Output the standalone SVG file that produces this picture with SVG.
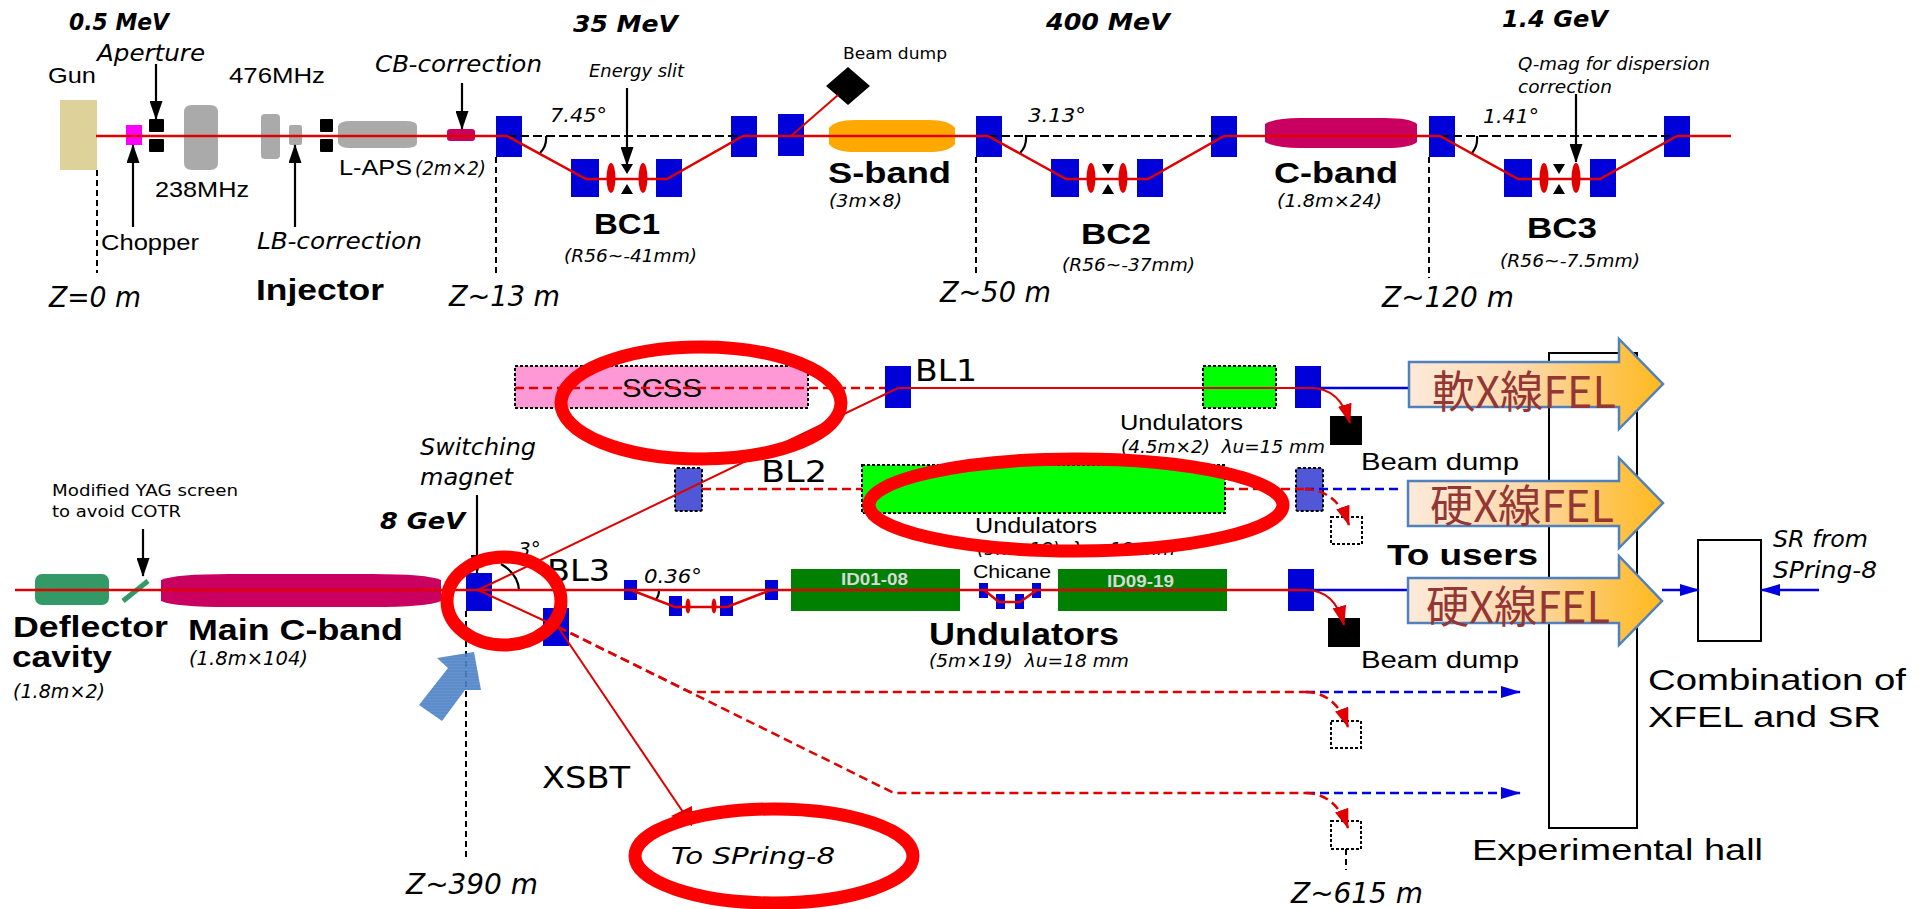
<svg xmlns="http://www.w3.org/2000/svg" width="1930" height="909" viewBox="0 0 1930 909">
<style>
text{font-family:"Liberation Sans",Arial,sans-serif;fill:#000}
.r{font-size:22px}
.b{font-weight:700;font-size:30px}
.i{font-family:"DejaVu Sans",sans-serif;font-style:italic;font-size:23px}
.s{font-family:"DejaVu Sans",sans-serif;font-style:italic;font-size:17px}
.e{font-family:"DejaVu Sans",sans-serif;font-style:italic;font-weight:700;font-size:23px}
.d{font-family:"DejaVu Sans",sans-serif;font-size:16px}
.z{font-family:"DejaVu Sans",sans-serif;font-style:italic;font-size:28px}
.bl{font-family:"DejaVu Sans",sans-serif;font-size:31px}
.l{font-size:30px}
.fel{font-family:"Noto Sans CJK JP","Noto Sans CJK SC",sans-serif;font-size:44px;fill:#943634}
.id{font-weight:700;font-size:16px;fill:#d9d9d9}
.bm{fill:#0000d8}
.gr{fill:#aaa}
.bk{fill:#000}
.rd{fill:#e00000}
.sl{fill:none;stroke:#000;stroke-width:2;stroke-dasharray:6 4}
.beam{fill:none;stroke:#e00000;stroke-width:2.5}
.beam2{fill:none;stroke:#e00000;stroke-width:2}
.rdash{fill:none;stroke:#e00000;stroke-width:2.5;stroke-dasharray:9 5}
.bdash{fill:none;stroke:#0000e0;stroke-width:2.5;stroke-dasharray:9 5}
.bsol{fill:none;stroke:#0000e0;stroke-width:2.5}
.kd{fill:none;stroke:#000;stroke-width:2;stroke-dasharray:9 4}
.ka{fill:none;stroke:#000;stroke-width:2.2}
.dot{stroke:#000;stroke-width:2;stroke-dasharray:3 2}
.oval{fill:none;stroke:#f00;stroke-width:13}
.big{fill:url(#felg);stroke:#4f81bd;stroke-width:2.5}
</style>
<defs>
<linearGradient id="felg" x1="0" x2="1" y1="0" y2="0"><stop offset="0" stop-color="#fdeada"/><stop offset=".45" stop-color="#fcd9ad"/><stop offset="1" stop-color="#ffb81c"/></linearGradient>
<pattern id="stripe" width="4" height="3" patternUnits="userSpaceOnUse"><rect width="4" height="3" fill="#4a80c4"/><rect width="4" height="1" fill="#5588c8"/></pattern>
<marker id="ak" markerUnits="userSpaceOnUse" markerWidth="19" markerHeight="13" refX="18" refY="6.5" orient="auto" viewBox="0 0 19 13"><path d="M0 0L19 6.5L0 13Z" fill="#000"/></marker>
<marker id="ar" markerUnits="userSpaceOnUse" markerWidth="20" markerHeight="14" refX="19" refY="7" orient="auto" viewBox="0 0 20 14"><path d="M0 0L20 7L0 14Z" fill="#e00000"/></marker>
<marker id="ab" markerUnits="userSpaceOnUse" markerWidth="20" markerHeight="12" refX="19" refY="6" orient="auto" viewBox="0 0 20 12"><path d="M0 0L20 6L0 12Z" fill="#0000e0"/></marker>
</defs>

<g id="hall"><rect x="1549" y="353" width="88" height="475" fill="#fff" stroke="#000" stroke-width="2"/></g>
<g id="combiner"><rect x="1698" y="540" width="63" height="101" fill="#fff" stroke="#000" stroke-width="2"/></g>

<g id="injector">
<rect id="gun" x="60" y="100" width="37" height="70" fill="#ddd29a"/>
<rect id="chopper" x="126" y="125" width="16" height="20" fill="#f0f"/>
<rect class="bk" x="149" y="119" width="15" height="13" rx="1"/><rect class="bk" x="149" y="139" width="15" height="13" rx="1"/>
<path class="gr" d="M184 112Q184 105 192 105H210Q218 105 218 112V163Q218 170 210 170H192Q184 170 184 163Z"/>
<rect class="gr" x="261" y="114" width="19" height="45" rx="4"/>
<rect class="gr" x="289" y="125" width="13" height="20" rx="2"/>
<rect class="bk" x="320" y="119" width="13" height="13" rx="1"/><rect class="bk" x="320" y="139" width="13" height="13" rx="1"/>
<path class="gr" d="M338 126Q340 121 350 121H405Q417 121 417 126V143Q417 148 405 148H350Q340 148 338 143Z"/>
<rect x="447" y="129" width="28" height="12" rx="3" fill="#c90060"/>
</g>
<g id="bc1">
<rect class="bm" x="496" y="116" width="26" height="41"/><rect class="bm" x="571" y="159" width="28" height="38"/><rect class="bm" x="656" y="159" width="26" height="38"/><rect class="bm" x="731" y="116" width="26" height="41"/>
<ellipse class="rd" cx="611" cy="178" rx="4.5" ry="15"/><ellipse class="rd" cx="643" cy="178" rx="4.5" ry="15"/>
<path class="bk" d="M621 164H633L627 174ZM621 194H633L627 184Z"/>
</g>
<g id="dump-top"><rect class="bm" x="778" y="114" width="26" height="42"/><path class="bk" d="M848 67L870 86L848 105L826 86Z"/></g>
<g id="sband"><path d="M829 128Q835 120 855 120H929Q949 120 955 128V144Q949 152 929 152H855Q835 152 829 144Z" fill="#ffa800"/></g>
<g id="bc2">
<rect class="bm" x="976" y="116" width="26" height="41"/><rect class="bm" x="1051" y="159" width="28" height="38"/><rect class="bm" x="1137" y="159" width="26" height="38"/><rect class="bm" x="1211" y="116" width="26" height="41"/>
<ellipse class="rd" cx="1091" cy="178" rx="4.5" ry="15"/><ellipse class="rd" cx="1123" cy="178" rx="4.5" ry="15"/>
<path class="bk" d="M1102 164H1114L1108 174ZM1102 194H1114L1108 184Z"/>
</g>
<g id="cband"><path d="M1265 124Q1275 118 1300 118H1385Q1410 118 1417 124V142Q1410 148 1385 148H1300Q1275 148 1265 142Z" fill="#c90060"/></g>
<g id="bc3">
<rect class="bm" x="1429" y="116" width="26" height="41"/><rect class="bm" x="1504" y="159" width="28" height="38"/><rect class="bm" x="1590" y="159" width="26" height="38"/><rect class="bm" x="1664" y="116" width="26" height="41"/>
<ellipse class="rd" cx="1544" cy="178" rx="4.5" ry="15"/><ellipse class="rd" cx="1576" cy="178" rx="4.5" ry="15"/>
<path class="bk" d="M1553 164H1565L1559 174ZM1553 194H1565L1559 184Z"/>
</g>

<g id="deflector"><rect x="35" y="574" width="74" height="31" rx="7" fill="#339966"/><path d="M123 601L148 581" stroke="#339966" stroke-width="5"/></g>
<g id="main-cband"><path d="M161 580Q175 574 230 574H372Q427 574 441 580V601Q427 607 372 607H230Q175 607 161 601Z" fill="#c90060"/></g>
<g id="switching"><rect class="bm" x="466" y="573" width="26" height="38"/><rect class="bm" x="543" y="608" width="26" height="38"/></g>
<g id="scss"><rect class="dot" x="515" y="366" width="293" height="42" fill="#ff99d6"/><text x="622" y="397" font-size="26" textLength="80" lengthAdjust="spacingAndGlyphs">SCSS</text></g>
<g id="bl1"><rect class="bm" x="885" y="366" width="26" height="42"/><rect class="dot" x="1203" y="366" width="73" height="42" fill="#0f0"/><rect class="bm" x="1295" y="366" width="26" height="42"/><rect class="bk" x="1330" y="416" width="32" height="29"/></g>
<g id="bl2"><rect class="dot" x="675" y="468" width="27" height="43" rx="2" fill="#5058d8"/><rect class="dot" x="862" y="465" width="363" height="48" fill="#0f0"/><rect class="dot" x="1296" y="468" width="27" height="43" rx="2" fill="#5058d8"/><rect class="dot" x="1331" y="517" width="31" height="27" fill="none"/></g>
<g id="bl3">
<rect class="bm" x="624" y="580" width="13" height="20"/><rect class="bm" x="669" y="596" width="13" height="20"/><rect class="bm" x="720" y="596" width="13" height="20"/><rect class="bm" x="765" y="580" width="13" height="20"/>
<ellipse class="rd" cx="688" cy="606" rx="2.5" ry="7.5"/><ellipse class="rd" cx="714" cy="606" rx="2.5" ry="7.5"/>
<rect x="791" y="569" width="169" height="42" fill="#008000"/><text class="id" x="841" y="585" textLength="67" lengthAdjust="spacingAndGlyphs">ID01-08</text>
<rect class="bm" x="979" y="583" width="9" height="15"/><rect class="bm" x="996" y="594" width="9" height="15"/><rect class="bm" x="1015" y="594" width="9" height="15"/><rect class="bm" x="1032" y="583" width="9" height="15"/>
<rect x="1058" y="569" width="169" height="42" fill="#008000"/><text class="id" x="1107" y="587" textLength="67" lengthAdjust="spacingAndGlyphs">ID09-19</text>
<rect class="bm" x="1288" y="569" width="26" height="42"/><rect class="bk" x="1328" y="618" width="32" height="29"/>
</g>
<g id="dump-a"><rect class="dot" x="1331" y="721" width="30" height="27" fill="none"/></g>
<g id="dump-b"><rect class="dot" x="1331" y="821" width="30" height="28" fill="none"/></g>

<g id="connectors">
<path class="kd" d="M507 136H743M988 136H1224M1440 136H1677"/>
<path class="sl" d="M97 170V273M496 157V273M976 157V273M1429 157V278M466 611V857M1346 849V870"/>
<path class="ka" d="M546 136Q547 146 540 153M1026 135Q1027 146 1020 153M1477 136Q1478 146 1472 153M659 590Q659 596 656 599M519 590Q518 574 501 564"/>
<path class="ka" marker-end="url(#ak)" d="M156 64V119"/>
<path class="ka" marker-end="url(#ak)" d="M133 227V145"/>
<path class="ka" marker-end="url(#ak)" d="M295 227V145"/>
<path class="ka" marker-end="url(#ak)" d="M462 83V129"/>
<path class="ka" marker-end="url(#ak)" d="M627 88V165"/>
<path class="ka" marker-end="url(#ak)" d="M1576 94V162"/>
<path class="ka" marker-end="url(#ak)" d="M143 529V576"/>
<path class="ka" marker-end="url(#ak)" d="M477 495V573"/>
<path class="kd" d="M631 590H771" style="stroke-dasharray:6 3"/>
<path class="beam" d="M96 136H507L586 179H667L743 136H988L1066 179H1148L1224 136H1440L1518 179H1600L1677 136H1731"/>
<path class="beam2" d="M791 136L838 95"/>
<path class="beam" d="M15 590H1306"/>
<path class="beam" d="M631 590L675 607H727L771 590M984 590L999 602H1020L1037 590" />
<path class="beam2" d="M478 590L898 388H1311"/>
<path class="bsol" d="M1311 388H1409M1306 590H1408"/>
<path class="beam2" marker-end="url(#ar)" d="M1311 388Q1340 388 1350 423"/>
<path class="beam2" marker-end="url(#ar)" d="M1306 590Q1335 590 1344 625"/>
<path class="rdash" d="M515 388H885M702 489H862M1225 489H1305"/>
<path class="bdash" d="M1305 489H1403"/>
<path class="rdash" marker-end="url(#ar)" d="M1305 489Q1337 490 1349 525"/>
<path class="beam2" d="M478 590L558 627"/>
<path class="beam2" d="M558 627L685 815"/>
<path class="rd" d="M692 826L692 806L671 816Z"/>
<path class="rdash" d="M558 627L690 692H1306"/>
<path class="rdash" d="M558 627L892 792Q896 793 900 793H1306"/>
<path class="bdash" marker-end="url(#ab)" d="M1306 692H1520"/>
<path class="bdash" marker-end="url(#ab)" d="M1306 793H1520"/>
<path class="rdash" marker-end="url(#ar)" d="M1306 692Q1336 693 1348 727"/>
<path class="rdash" marker-end="url(#ar)" d="M1306 793Q1336 794 1348 828"/>
<path class="bsol" marker-end="url(#ab)" d="M1662 590H1699"/>
<path class="bsol" marker-end="url(#ab)" d="M1819 590H1761"/>
</g>

<g id="beam-arrow"><path d="M419 705L442 721L465 690L481 690L474 652L437 658L448 668Z" fill="url(#stripe)" opacity=".9"/></g>

<g id="labels">
<text class="e" x="69" y="30" textLength="100" lengthAdjust="spacingAndGlyphs">0.5 MeV</text>
<text class="e" x="573" y="32" textLength="105" lengthAdjust="spacingAndGlyphs">35 MeV</text>
<text class="e" x="1046" y="30" textLength="124" lengthAdjust="spacingAndGlyphs">400 MeV</text>
<text class="e" x="1502" y="27" textLength="106" lengthAdjust="spacingAndGlyphs">1.4 GeV</text>
<text class="i" x="97" y="61" textLength="108" lengthAdjust="spacingAndGlyphs">Aperture</text>
<text class="r" x="48" y="83" textLength="48" lengthAdjust="spacingAndGlyphs">Gun</text>
<text class="r" x="229" y="83" textLength="96" lengthAdjust="spacingAndGlyphs">476MHz</text>
<text class="r" x="155" y="197" textLength="94" lengthAdjust="spacingAndGlyphs">238MHz</text>
<text class="r" x="339" y="175" textLength="73" lengthAdjust="spacingAndGlyphs">L-APS</text>
<text class="s" x="415" y="175" style="font-size:19px" textLength="71" lengthAdjust="spacingAndGlyphs">(2m×2)</text>
<text class="i" x="375" y="72" textLength="167" lengthAdjust="spacingAndGlyphs">CB-correction</text>
<text class="i" x="257" y="249" textLength="165" lengthAdjust="spacingAndGlyphs">LB-correction</text>
<text class="r" x="101" y="250" textLength="98" lengthAdjust="spacingAndGlyphs">Chopper</text>
<text class="b" x="256" y="300" textLength="128" lengthAdjust="spacingAndGlyphs">Injector</text>
<text class="z" x="49" y="307" textLength="92" lengthAdjust="spacingAndGlyphs">Z=0 m</text>
<text class="z" x="449" y="306" textLength="111" lengthAdjust="spacingAndGlyphs">Z~13 m</text>
<text class="z" x="940" y="302" textLength="111" lengthAdjust="spacingAndGlyphs">Z~50 m</text>
<text class="z" x="1382" y="307" textLength="132" lengthAdjust="spacingAndGlyphs">Z~120 m</text>
<text class="z" x="406" y="894" textLength="132" lengthAdjust="spacingAndGlyphs">Z~390 m</text>
<text class="z" x="1291" y="903" textLength="132" lengthAdjust="spacingAndGlyphs">Z~615 m</text>
<text class="i" style="font-size:20px" x="550" y="122" textLength="57" lengthAdjust="spacingAndGlyphs">7.45°</text>
<text class="i" style="font-size:20px" x="1028" y="122" textLength="58" lengthAdjust="spacingAndGlyphs">3.13°</text>
<text class="i" style="font-size:20px" x="1483" y="123" textLength="56" lengthAdjust="spacingAndGlyphs">1.41°</text>
<text class="i" style="font-size:20px" x="644" y="583" textLength="58" lengthAdjust="spacingAndGlyphs">0.36°</text>
<text class="i" style="font-size:20px" x="518" y="556">3°</text>
<text class="s" x="589" y="77" textLength="95" lengthAdjust="spacingAndGlyphs">Energy slit</text>
<text class="d" x="843" y="59" textLength="104" lengthAdjust="spacingAndGlyphs">Beam dump</text>
<text class="s" x="1518" y="70" textLength="192" lengthAdjust="spacingAndGlyphs">Q-mag for dispersion</text>
<text class="s" x="1518" y="93" textLength="94" lengthAdjust="spacingAndGlyphs">correction</text>
<text class="b" x="594" y="234" textLength="66" lengthAdjust="spacingAndGlyphs">BC1</text>
<text class="b" x="1081" y="244" textLength="70" lengthAdjust="spacingAndGlyphs">BC2</text>
<text class="b" x="1527" y="238" textLength="70" lengthAdjust="spacingAndGlyphs">BC3</text>
<text class="b" x="828" y="183" textLength="123" lengthAdjust="spacingAndGlyphs">S-band</text>
<text class="b" x="1274" y="183" textLength="124" lengthAdjust="spacingAndGlyphs">C-band</text>
<text class="s" x="564" y="262" textLength="133" lengthAdjust="spacingAndGlyphs">(R56~-41mm)</text>
<text class="s" x="1062" y="271" textLength="133" lengthAdjust="spacingAndGlyphs">(R56~-37mm)</text>
<text class="s" x="1500" y="267" textLength="140" lengthAdjust="spacingAndGlyphs">(R56~-7.5mm)</text>
<text class="s" x="829" y="207" textLength="73" lengthAdjust="spacingAndGlyphs">(3m×8)</text>
<text class="s" x="1277" y="207" textLength="105" lengthAdjust="spacingAndGlyphs">(1.8m×24)</text>
<text class="d" x="52" y="496" textLength="186" lengthAdjust="spacingAndGlyphs">Modified YAG screen</text>
<text class="d" x="52" y="517" textLength="129" lengthAdjust="spacingAndGlyphs">to avoid COTR</text>
<text class="i" x="420" y="455" textLength="116" lengthAdjust="spacingAndGlyphs">Switching</text>
<text class="i" x="420" y="485" textLength="93" lengthAdjust="spacingAndGlyphs">magnet</text>
<text class="e" x="380" y="529" textLength="85" lengthAdjust="spacingAndGlyphs">8 GeV</text>
<text class="b" x="13" y="637" textLength="155" lengthAdjust="spacingAndGlyphs">Deflector</text>
<text class="b" x="12" y="667" textLength="100" lengthAdjust="spacingAndGlyphs">cavity</text>
<text class="b" x="188" y="640" textLength="215" lengthAdjust="spacingAndGlyphs">Main C-band</text>
<text class="s" x="13" y="698" style="font-size:19px" textLength="92" lengthAdjust="spacingAndGlyphs">(1.8m×2)</text>
<text class="s" x="189" y="665" style="font-size:19px" textLength="119" lengthAdjust="spacingAndGlyphs">(1.8m×104)</text>
<text class="bl" x="542" y="788" textLength="88" lengthAdjust="spacingAndGlyphs">XSBT</text>
<text class="i" x="671" y="864" textLength="164" lengthAdjust="spacingAndGlyphs">To SPring-8</text>
<text class="bl" x="915" y="381" textLength="62" lengthAdjust="spacingAndGlyphs">BL1</text>
<text class="bl" x="761" y="482" textLength="66" lengthAdjust="spacingAndGlyphs">BL2</text>
<text class="bl" x="547" y="581" textLength="63" lengthAdjust="spacingAndGlyphs">BL3</text>
<text class="r" x="1120" y="430" textLength="123" lengthAdjust="spacingAndGlyphs">Undulators</text>
<text class="s" x="1121" y="453" style="font-size:18px;white-space:pre" textLength="204" lengthAdjust="spacingAndGlyphs">(4.5m×2)  λu=15 mm</text>
<text class="r" x="975" y="533" textLength="122" lengthAdjust="spacingAndGlyphs">Undulators</text>
<text class="s" x="977" y="555" style="font-size:18px;white-space:pre" textLength="198" lengthAdjust="spacingAndGlyphs">(5m×18)  λu=18 mm</text>
<text class="r" style="font-size:19px" x="973" y="578" textLength="78" lengthAdjust="spacingAndGlyphs">Chicane</text>
<text class="b" style="font-size:32px" x="929" y="645" textLength="190" lengthAdjust="spacingAndGlyphs">Undulators</text>
<text class="s" x="929" y="667" style="font-size:18px;white-space:pre" textLength="200" lengthAdjust="spacingAndGlyphs">(5m×19)  λu=18 mm</text>
<text class="r" style="font-size:24px" x="1361" y="470" textLength="158" lengthAdjust="spacingAndGlyphs">Beam dump</text>
<text class="r" style="font-size:24px" x="1361" y="668" textLength="158" lengthAdjust="spacingAndGlyphs">Beam dump</text>
<text class="b" x="1387" y="565" textLength="151" lengthAdjust="spacingAndGlyphs">To users</text>
<text class="i" x="1773" y="547" textLength="95" lengthAdjust="spacingAndGlyphs">SR from</text>
<text class="i" x="1773" y="578" textLength="104" lengthAdjust="spacingAndGlyphs">SPring-8</text>
<text class="l" x="1648" y="690" textLength="258" lengthAdjust="spacingAndGlyphs">Combination of</text>
<text class="l" x="1648" y="727" textLength="233" lengthAdjust="spacingAndGlyphs">XFEL and SR</text>
<text class="l" x="1472" y="860" textLength="291" lengthAdjust="spacingAndGlyphs">Experimental hall</text>
</g>

<g id="fel-1"><path class="big" d="M1409 362H1619V339L1663 384L1619 429V407H1409Z"/><text class="fel" x="1432" y="408" textLength="184" lengthAdjust="spacingAndGlyphs">軟X線FEL</text></g>
<g id="fel-2"><path class="big" d="M1408 481H1619V458L1663 503L1619 548V526H1408Z"/><text class="fel" x="1430" y="522" textLength="184" lengthAdjust="spacingAndGlyphs">硬X線FEL</text></g>
<g id="fel-3"><path class="big" d="M1408 578H1619V556L1662 601L1619 645V623H1408Z"/><text class="fel" x="1426" y="623" textLength="184" lengthAdjust="spacingAndGlyphs">硬X線FEL</text></g>

<g id="highlights">
<ellipse class="oval" cx="504" cy="601" rx="57" ry="44"/>
<ellipse class="oval" cx="701" cy="403" rx="140" ry="56"/>
<ellipse class="oval" cx="1076" cy="505" rx="207" ry="46"/>
<ellipse class="oval" cx="774" cy="856" rx="139" ry="47"/>
</g>
</svg>
